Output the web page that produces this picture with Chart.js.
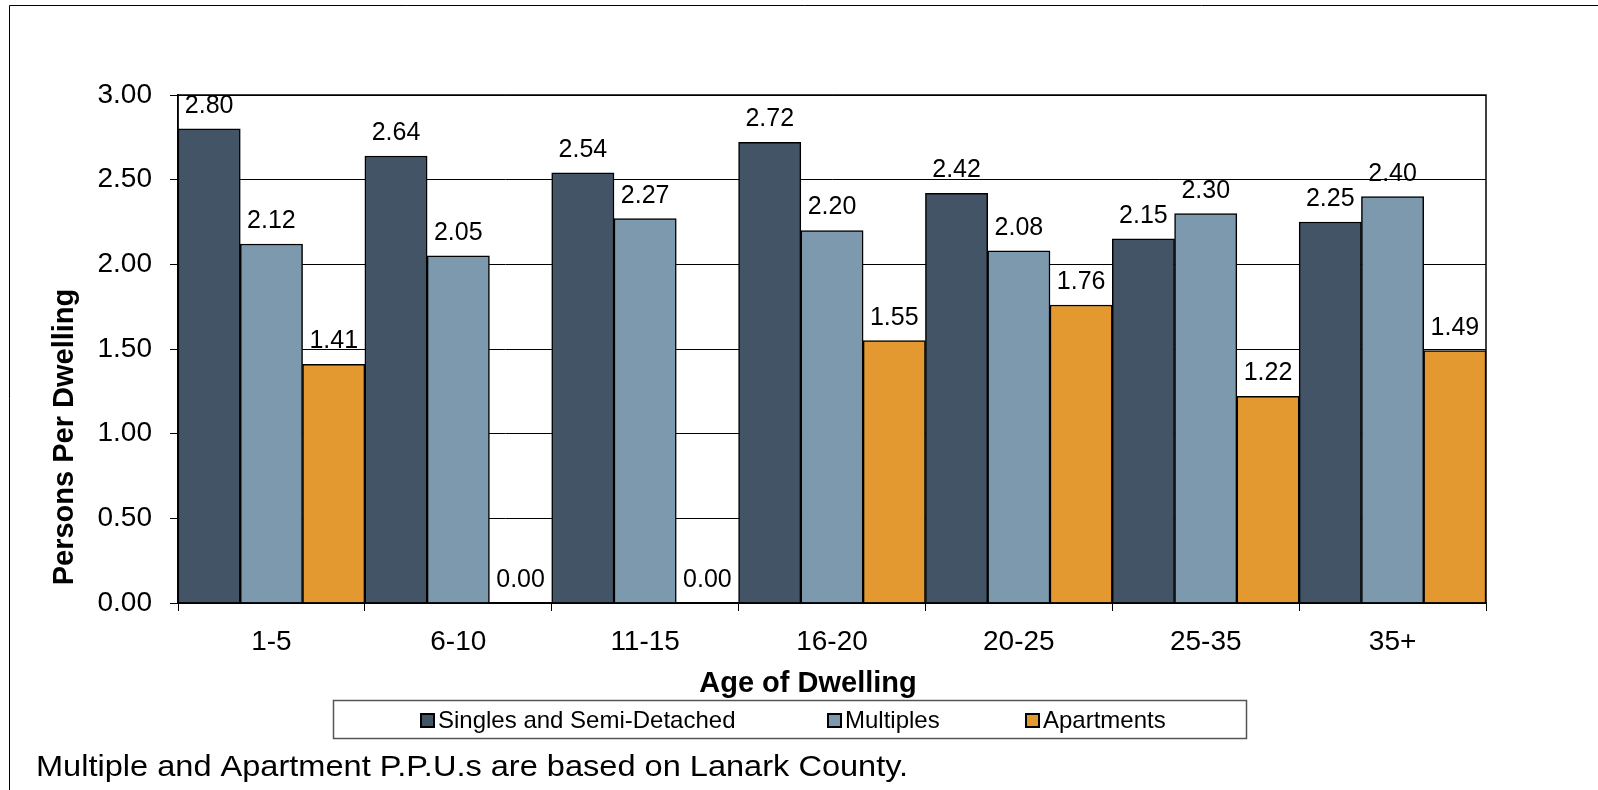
<!DOCTYPE html>
<html>
<head>
<meta charset="utf-8">
<title>Persons Per Dwelling by Age of Dwelling</title>
<script src="https://cdn.jsdelivr.net/npm/chart.js@4/dist/chart.umd.min.js"></script>
<style>
  html, body { margin: 0; padding: 0; background: #ffffff; }
  #wrap { width: 1598px; height: 790px; position: relative; }
</style>
</head>
<body>
<div id="wrap"><canvas id="ppu" width="1598" height="790"></canvas></div>
<script>
// Age-of-dwelling categories
const ageCategories = ['1-5', '6-10', '11-15', '16-20', '20-25', '25-35', '35+'];

// Persons per dwelling by dwelling type
const singlesSemi = [2.80, 2.64, 2.54, 2.72, 2.42, 2.15, 2.25];
const multiples   = [2.12, 2.05, 2.27, 2.20, 2.08, 2.30, 2.40];
const apartments  = [1.41, 0.00, 0.00, 1.55, 1.76, 1.22, 1.49];

// Value axis ticks
const yTicks = [0, 0.5, 1.0, 1.5, 2.0, 2.5, 3.0];

const seriesNames = ['Singles and Semi-Detached', 'Multiples', 'Apartments'];
const seriesColors = ['#425466', '#7c99ae', '#e3992f'];

const xTitle = 'Age of Dwelling';
const yTitle = 'Persons Per Dwelling';
const footnote = 'Multiple and Apartment P.P.U.s are based on Lanark County.';

const FONT = '"Liberation Sans", Arial, Helvetica, sans-serif';

// Page frame, plot box, titles, legend and footnote
const decorations = {
  id: 'decorations',
  beforeDraw(chart) {
    const ctx = chart.ctx;
    ctx.save();
    ctx.fillStyle = '#ffffff';
    ctx.fillRect(0, 0, chart.width, chart.height);
    ctx.strokeStyle = '#000000';
    ctx.lineWidth = 1;
    ctx.beginPath();
    ctx.moveTo(9.5, 800);
    ctx.lineTo(9.5, 5.5);
    ctx.lineTo(1610, 5.5);
    ctx.stroke();
    ctx.restore();
  },
  afterDraw(chart) {
    const ctx = chart.ctx;
    const a = chart.chartArea;
    ctx.save();

    // plot box
    ctx.strokeStyle = '#000000';
    ctx.lineWidth = 1.5;
    ctx.strokeRect(a.left, a.top, a.right - a.left, a.bottom - a.top);

    // y axis title
    ctx.fillStyle = '#000000';
    ctx.font = 'bold 29px ' + FONT;
    ctx.textAlign = 'center';
    ctx.textBaseline = 'alphabetic';
    ctx.save();
    ctx.translate(73, 437);
    ctx.rotate(-Math.PI / 2);
    ctx.fillText(yTitle, 0, 0);
    ctx.restore();

    // x axis title
    ctx.fillText(xTitle, 808, 692);

    // legend box
    ctx.strokeStyle = '#555555';
    ctx.lineWidth = 1.5;
    ctx.strokeRect(333.5, 700.5, 913, 38);

    const markerX = [420, 827, 1025];
    ctx.font = '24px ' + FONT;
    ctx.textAlign = 'left';
    chart.data.datasets.forEach((ds, i) => {
      ctx.fillStyle = ds.backgroundColor;
      ctx.fillRect(markerX[i], 713, 15, 15);
      ctx.strokeStyle = '#000000';
      ctx.lineWidth = 2;
      ctx.strokeRect(markerX[i] + 1, 714, 13, 13);
      ctx.fillStyle = '#000000';
      ctx.fillText(ds.label, markerX[i] + 18, 728);
    });

    // footnote
    ctx.save();
    ctx.font = '30px ' + FONT;
    ctx.translate(36, 776);
    ctx.scale(1.085, 1);
    ctx.fillText(footnote, 0, 0);
    ctx.restore();

    ctx.restore();
  }
};

// Value labels above each bar
const valueLabels = {
  id: 'valueLabels',
  afterDatasetsDraw(chart) {
    const ctx = chart.ctx;
    ctx.save();
    ctx.font = '25px ' + FONT;
    ctx.fillStyle = '#000000';
    ctx.textAlign = 'center';
    ctx.textBaseline = 'alphabetic';
    chart.data.datasets.forEach((ds, di) => {
      const meta = chart.getDatasetMeta(di);
      meta.data.forEach((bar, i) => {
        ctx.fillText(ds.data[i].toFixed(2), bar.x, bar.y - 16);
      });
    });
    ctx.restore();
  }
};

new Chart(document.getElementById('ppu'), {
  type: 'bar',
  data: {
    labels: ageCategories,
    datasets: [singlesSemi, multiples, apartments].map((vals, i) => ({
      label: seriesNames[i],
      data: vals,
      backgroundColor: seriesColors[i],
      borderColor: '#000000',
      borderWidth: 1.5,
      categoryPercentage: 1.0,
      barPercentage: 1.0
    }))
  },
  options: {
    responsive: false,
    animation: false,
    layout: { padding: { left: 0, right: 112, top: 95, bottom: 0 } },
    plugins: {
      legend: { display: false },
      title: { display: false },
      tooltip: { enabled: false }
    },
    scales: {
      x: {
        offset: true,
        grid: {
          offset: true,
          drawOnChartArea: false,
          drawTicks: true,
          tickLength: 8,
          color: '#000000',
          lineWidth: 1
        },
        border: { display: true, color: '#000000', width: 1.5 },
        ticks: {
          color: '#000000',
          font: { family: FONT, size: 28 },
          padding: 14,
          maxRotation: 0
        },
        afterFit(scale) { scale.height = 187; }
      },
      y: {
        min: 0,
        max: 3,
        afterBuildTicks(scale) { scale.ticks = yTicks.map(v => ({ value: v })); },
        grid: {
          color: '#000000',
          lineWidth: 1,
          drawTicks: true,
          tickLength: 8
        },
        border: { display: true, color: '#000000', width: 1.5 },
        ticks: {
          color: '#000000',
          font: { family: FONT, size: 28 },
          padding: 18,
          callback: v => Number(v).toFixed(2)
        },
        afterFit(scale) { scale.width = 178; }
      }
    }
  },
  plugins: [decorations, valueLabels]
});
</script>
</body>
</html>
